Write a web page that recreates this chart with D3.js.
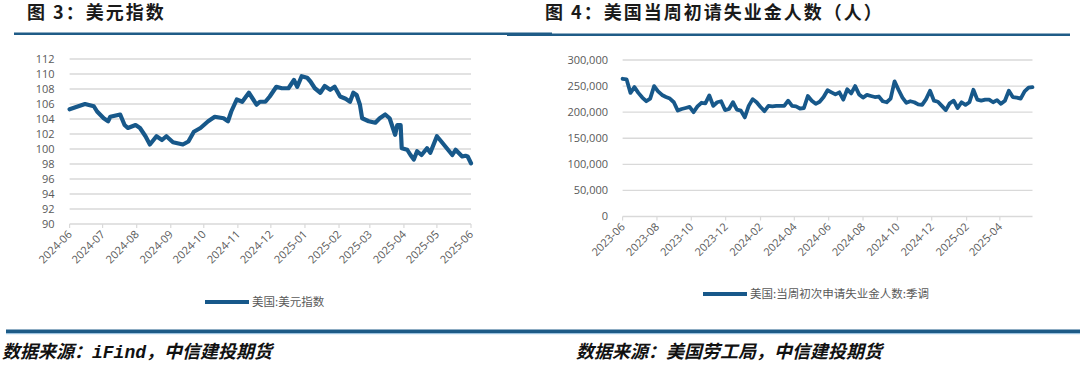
<!DOCTYPE html>
<html>
<head>
<meta charset="utf-8">
<script src="https://cdn.jsdelivr.net/npm/d3@7/dist/d3.min.js"></script>
<style>
body { margin: 0; background: #fff; }
svg { display: block; }
.tick-label { font-family: "Open Sans", "Noto Sans", sans-serif; font-size: 11px; fill: #595959; }
.title { font-family: "Noto Sans CJK SC", sans-serif; font-size: 18px; font-weight: 700; fill: #1a1a1a; letter-spacing: 2px; }
.legend { font-family: "Noto Sans CJK SC", sans-serif; font-size: 11.5px; fill: #595959; }
.source { font-family: "Noto Sans CJK SC", sans-serif; font-size: 18px; font-weight: 700; font-style: italic; fill: #111; }
</style>
</head>
<body>
<div id="main"></div>
<script>
// 美元指数 (picture readings)
var dxyDates = ["2024-06-12","2024-06-26","2024-07-04","2024-07-07","2024-07-13","2024-07-17","2024-07-19","2024-07-28",
  "2024-08-01","2024-08-04","2024-08-11","2024-08-15","2024-08-20","2024-08-24","2024-08-30","2024-09-04","2024-09-08",
  "2024-09-14","2024-09-23","2024-09-28","2024-10-03","2024-10-09","2024-10-16","2024-10-22","2024-10-30","2024-11-03",
  "2024-11-06","2024-11-11","2024-11-16","2024-11-22","2024-11-26","2024-11-29","2024-12-02","2024-12-07","2024-12-11",
  "2024-12-17","2024-12-22","2024-12-28","2025-01-02","2025-01-05","2025-01-09","2025-01-14","2025-01-17","2025-01-21",
  "2025-01-26","2025-01-30","2025-02-04","2025-02-08","2025-02-13","2025-02-18","2025-02-22","2025-02-25","2025-02-28",
  "2025-03-03","2025-03-05","2025-03-11","2025-03-17","2025-03-21","2025-03-26","2025-03-30","2025-04-04","2025-04-06",
  "2025-04-09","2025-04-10","2025-04-15","2025-04-18","2025-04-21","2025-04-24","2025-04-28","2025-05-03","2025-05-06",
  "2025-05-12","2025-05-16","2025-05-21","2025-05-26","2025-05-29","2025-06-04","2025-06-07","2025-06-09","2025-06-12"];
var dxyValues = [105.3,106.0,105.7,105.0,104.1,103.7,104.3,104.6,
  103.2,102.8,103.2,102.8,101.7,100.6,101.7,101.2,101.7,
  100.9,100.6,101.0,102.3,102.8,103.7,104.3,104.1,103.7,
  105.0,106.6,106.3,107.5,106.6,105.9,106.3,106.3,107.0,
  108.3,108.1,108.1,109.2,108.3,109.7,109.5,109.0,108.1,
  107.5,108.4,107.9,108.3,107.0,106.7,106.3,107.5,107.2,
  105.9,104.1,103.7,103.5,104.1,104.6,104.1,101.9,103.2,
  103.2,100.1,99.9,99.2,98.6,99.7,99.2,100.1,99.5,
  101.7,101.0,100.1,99.2,99.9,99.0,99.1,99.0,98.1];
var dxyTicks = [90,92,94,96,98,100,102,104,106,108,110,112];

// 美国当周初次申请失业金人数:季调, weekly from 2023-06-10
var claimsStart = "2023-06-10";
var claimsValues = [264000,263000,237000,248000,237000,228000,221000,226000,250000,240000,233000,229000,226000,219000,
  203000,206000,208000,210000,200000,211000,218000,217000,232000,212000,219000,221000,204000,206000,219000,205000,
  203000,190000,212000,225000,219000,210000,202000,212000,211000,212000,212000,212000,222000,212000,211000,207000,
  208000,231000,222000,216000,220000,229000,242000,238000,234000,238000,224000,244000,236000,250000,234000,228000,
  233000,231000,229000,230000,221000,219000,226000,259000,243000,228000,218000,221000,219000,215000,214000,225000,
  241000,222000,220000,212000,204000,217000,222000,208000,219000,214000,219000,243000,224000,222000,224000,224000,
  219000,223000,216000,222000,241000,229000,228000,226000,240000,247000,248000];
var claimsTicks = [0,50000,100000,150000,200000,250000,300000];

var lineColor = "#17588a";
var parseDate = d3.timeParse("%Y-%m-%d");

var svg = d3.select("#main").append("svg")
    .attr("width", 1080)
    .attr("height", 370);

// titles and rules
svg.append("text").attr("class", "title").attr("x", 27).attr("y", 19).text("图 3：美元指数");
svg.append("text").attr("class", "title").attr("x", 545).attr("y", 19).text("图 4：美国当周初请失业金人数（人）");
svg.append("rect").attr("x", 14).attr("y", 32.5).attr("width", 538).attr("height", 2.5).attr("fill", "#1f5c87");
svg.append("rect").attr("x", 507).attr("y", 33.5).attr("width", 563).attr("height", 2.5).attr("fill", "#1f5c87");

svg.append("rect").attr("x", 6).attr("y", 329.5).attr("width", 1074).attr("height", 3.5).attr("fill", "#1d5b87");
svg.append("rect").attr("x", 6).attr("y", 333).attr("width", 1074).attr("height", 1.2).attr("fill", "#9cc3e0");

var src1 = svg.append("text").attr("class", "source").attr("x", 2).attr("y", 358);
src1.append("tspan").text("数据来源：");
src1.append("tspan").style("font-family", "'Liberation Mono', monospace").style("font-weight", "700").text("iFind");
src1.append("tspan").text("，中信建投期货");
svg.append("text").attr("class", "source").attr("x", 576).attr("y", 358).text("数据来源：美国劳工局，中信建投期货");

function drawPanel(p) {
  var x = d3.scaleTime().domain(p.xDomain).range(p.xRange);
  var y = d3.scaleLinear().domain(p.yDomain).range(p.yRange);
  var g = svg.append("g");

  g.selectAll(".grid").data(p.yTicks).enter().append("line")
    .attr("x1", p.xRange[0]).attr("x2", p.xRange[1])
    .attr("y1", d => y(d)).attr("y2", d => y(d))
    .attr("stroke", "#d9d9d9").attr("stroke-width", 1.4);

  g.selectAll(".ylab").data(p.yTicks).enter().append("text")
    .attr("class", "tick-label")
    .attr("x", p.yLabelX).attr("y", d => y(d)).attr("dy", "0.35em")
    .attr("text-anchor", "end")
    .text(p.yFormat);

  var base = y(p.yDomain[0]);
  g.selectAll(".xtick").data(p.xTicks).enter().append("line")
    .attr("x1", d => x(d)).attr("x2", d => x(d))
    .attr("y1", base).attr("y2", base + 4)
    .attr("stroke", "#d9d9d9").attr("stroke-width", 1.2);

  var fmt = d3.timeFormat("%Y-%m");
  g.selectAll(".xlab").data(p.xTicks).enter().append("text")
    .attr("class", "tick-label")
    .attr("text-anchor", "end")
    .attr("transform", d => "translate(" + (x(d) + 3) + "," + (base + 11) + ") rotate(-45)")
    .text(fmt);

  var line = d3.line().x(d => x(d.date)).y(d => y(d.value)).curve(d3.curveLinear);
  g.append("path").datum(p.data)
    .attr("d", line)
    .attr("fill", "none")
    .attr("stroke", lineColor)
    .attr("stroke-width", p.lineWidth)
    .attr("stroke-linejoin", "round")
    .attr("stroke-linecap", "round");

  g.append("line")
    .attr("x1", p.legendX).attr("x2", p.legendX + 44)
    .attr("y1", p.legendY).attr("y2", p.legendY)
    .attr("stroke", lineColor).attr("stroke-width", 4);
  g.append("text").attr("class", "legend")
    .attr("x", p.legendX + 47).attr("y", p.legendY).attr("dy", "0.35em")
    .text(p.legendText);
}

var dxyData = dxyDates.map((d, i) => ({date: parseDate(d), value: dxyValues[i]}));
drawPanel({
  data: dxyData,
  xDomain: [parseDate("2024-06-12"), parseDate("2025-06-12")],
  xRange: [69.6, 471],
  xTicks: d3.range(13).map(i => new Date(2024, 5 + i, 12)),
  yDomain: [90, 112],
  yRange: [224, 59],
  yTicks: dxyTicks,
  yFormat: d => d,
  yLabelX: 54.5,
  lineWidth: 4.2,
  legendX: 205, legendY: 302,
  legendText: "美国:美元指数"
});

var claimsData = claimsValues.map((v, i) => ({date: d3.timeDay.offset(parseDate(claimsStart), 7 * i), value: v}));
drawPanel({
  data: claimsData,
  xDomain: [parseDate("2023-06-10"), parseDate("2025-06-07")],
  xRange: [622.6, 1032.5],
  xTicks: d3.range(12).map(i => new Date(2023, 5 + 2 * i, 10)),
  yDomain: [0, 300000],
  yRange: [216.5, 60],
  yTicks: claimsTicks,
  yFormat: d3.format(","),
  yLabelX: 608,
  lineWidth: 3.8,
  legendX: 703, legendY: 294,
  legendText: "美国:当周初次申请失业金人数:季调"
});
</script>
</body>
</html>
